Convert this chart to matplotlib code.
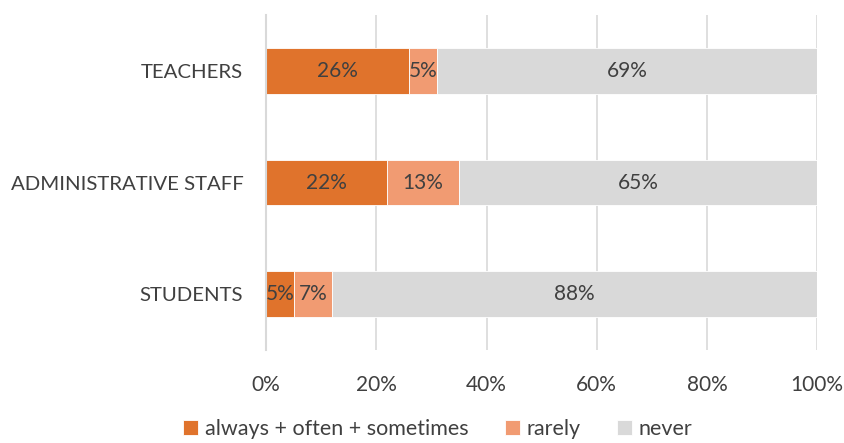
import numpy as np
import matplotlib.pyplot as plt

categories = ['STUDENTS', 'ADMINISTRATIVE STAFF', 'TEACHERS']
always = [5, 22, 26]
rarely = [7, 13, 5]
never = [88, 65, 69]
series_names = ['always + often + sometimes', 'rarely', 'never']
colors = ['#E0732C', '#F19B72', '#D9D9D9']
xticks = [0, 20, 40, 60, 80, 100]

plt.rcParams['font.family'] = ['Lato', 'DejaVu Sans']
text_color = '#404040'

fig = plt.figure(figsize=(8.45, 4.43), dpi=100)
ax = fig.add_axes([0.315, 0.21, 0.652, 0.756])

y = np.arange(len(categories))
left = np.zeros(len(categories))
for vals, name, col in zip([always, rarely, never], series_names, colors):
    vals = np.array(vals)
    ax.barh(y, vals, left=left, height=0.41, color=col, label=name,
            edgecolor='white', linewidth=0.6, zorder=3)
    for yi, l, v in zip(y, left, vals):
        ax.text(l + v / 2, yi, f'{v}%', ha='center', va='center',
                fontsize=15, color=text_color, zorder=4)
    left += vals

ax.set_xlim(0, 100)
ax.set_ylim(-0.5, 2.5)
ax.set_xticks(xticks)
ax.set_xticklabels([f'{t}%' for t in xticks])
ax.set_yticks(y)
ax.set_yticklabels(categories)
ax.tick_params(axis='both', length=0, labelsize=15, colors=text_color)
ax.tick_params(axis='y', labelsize=14.7)
ax.tick_params(axis='x', pad=18)
ax.tick_params(axis='y', pad=16.5)
ax.xaxis.grid(True, color='#D9D9D9', linewidth=1.2, zorder=0)
for s in ['top', 'right', 'bottom']:
    ax.spines[s].set_visible(False)
ax.spines['left'].set_color('#D9D9D9')
ax.spines['left'].set_linewidth(1.5)
ax.spines['left'].set_zorder(5)

handles, labels = ax.get_legend_handles_labels()
fig.legend(handles, labels, loc='lower center', bbox_to_anchor=(0.518, -0.035),
           ncol=3, frameon=False, fontsize=15.5, handlelength=0.7,
           handleheight=0.7, handletextpad=0.3, columnspacing=1.7,
           labelcolor=text_color)

fig.savefig('out.png', dpi=100)
